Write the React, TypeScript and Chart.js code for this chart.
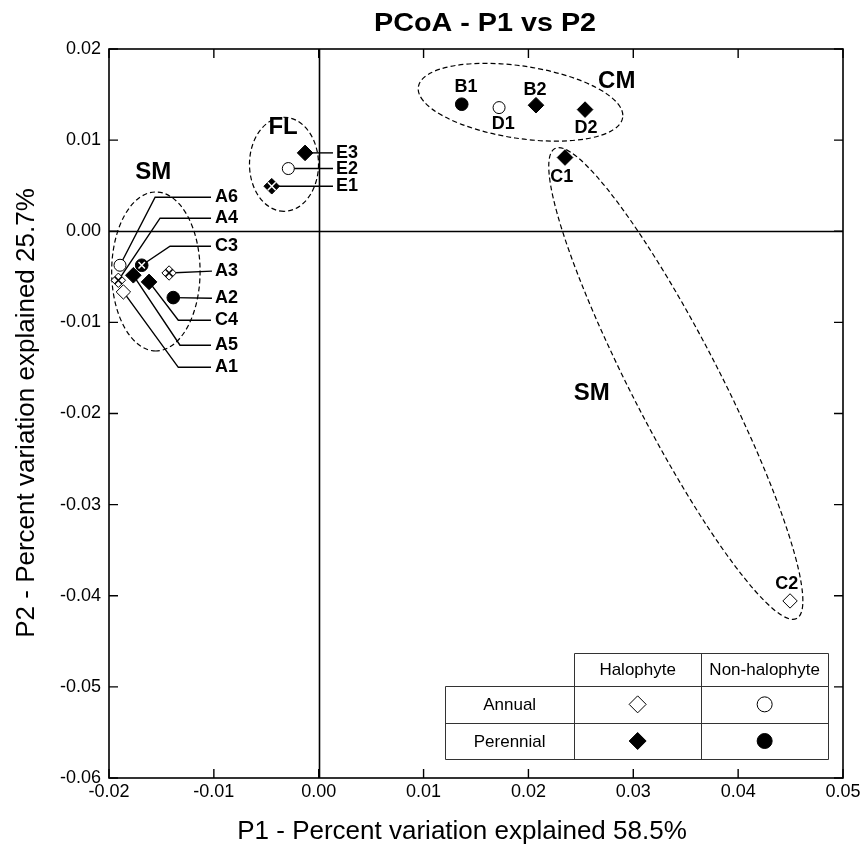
import React, { useEffect, useRef } from 'react';
import { Chart, registerables } from 'chart.js';

Chart.register(...registerables);

// ---------- data ----------
const sampleIds = ['A1', 'A2', 'A3', 'A4', 'A5', 'A6', 'B1', 'B2', 'C1', 'C2', 'C3', 'C4', 'D1', 'D2', 'E1', 'E2', 'E3'];
const p1Values = [-0.01863, -0.01387, -0.01427, -0.01911, -0.01768, -0.01895, 0.01364, 0.02072, 0.02349, 0.04495, -0.01688, -0.01618, 0.0172, 0.0254, -0.00448, -0.0029, -0.0013];
const p2Values = [-0.00666, -0.00728, -0.00458, -0.00538, -0.00483, -0.00373, 0.01394, 0.01383, 0.00809, -0.04057, -0.00373, -0.00556, 0.01357, 0.01335, 0.00494, 0.00688, 0.0086];
// HA = halophyte annual, HP = halophyte perennial, NA = non-halophyte annual, NP = non-halophyte perennial
const sampleKinds = ['HA', 'NP', 'HA', 'HA', 'HP', 'NA', 'NP', 'HP', 'HP', 'HA', 'NP', 'HP', 'NA', 'HP', 'HP', 'NA', 'HP'];
const overlapped = [false, false, true, true, false, false, false, false, false, false, true, false, false, false, true, false, false];

const xTickValues = [-0.02, -0.01, 0, 0.01, 0.02, 0.03, 0.04, 0.05];
const yTickValues = [-0.06, -0.05, -0.04, -0.03, -0.02, -0.01, 0, 0.01, 0.02];

const chartTitle = 'PCoA - P1 vs P2';
const xTitle = 'P1 - Percent variation explained 58.5%';
const yTitle = 'P2 - Percent variation explained 25.7%';

const legendColumns = ['Halophyte', 'Non-halophyte'];
const legendRows = ['Annual', 'Perennial'];
const legendKinds = [['HA', 'NA'], ['HP', 'NP']];

// annotation geometry (data units)
const groupLabels = [
  { text: 'SM', x: -0.01577, y: 0.00651 },
  { text: 'FL', x: -0.0034, y: 0.01141 },
  { text: 'CM', x: 0.02842, y: 0.0165 },
  { text: 'SM', x: 0.02603, y: -0.01781 },
];
const groupEllipses = [
  { p1: [-0.01553, 0.00431], p2: [-0.01553, -0.01314], ratio: 0.556 },
  { p1: [-0.00331, 0.01251], p2: [-0.00331, 0.00219], ratio: 0.734 },
  { p1: [0.0095, 0.01584], p2: [0.02899, 0.01248], ratio: 0.35 },
  { p1: [0.02253, 0.00908], p2: [0.04558, -0.0425], ratio: 0.167 },
];
const leaderRoutes = [
  { id: 'A6', via: [[-0.0156, 0.00373], [-0.01027, 0.00373]] },
  { id: 'A4', via: [[-0.01513, 0.00143], [-0.01027, 0.00143]] },
  { id: 'C3', via: [[-0.01418, -0.00165], [-0.01027, -0.00165]] },
  { id: 'A3', via: [[-0.01018, -0.00438]] },
  { id: 'A2', via: [[-0.01018, -0.00735]] },
  { id: 'C4', via: [[-0.01339, -0.00977], [-0.01027, -0.00977]] },
  { id: 'A5', via: [[-0.01323, -0.01251], [-0.01027, -0.01251]] },
  { id: 'A1', via: [[-0.01339, -0.01493], [-0.01027, -0.01493]] },
  { id: 'E3', via: [[0.00136, 0.0086]] },
  { id: 'E2', via: [[0.00136, 0.00688]] },
  { id: 'E1', via: [[0.00136, 0.00494]] },
];
const pointLabels = [
  { id: 'A6', x: -0.00989, y: 0.00373, align: 'left' },
  { id: 'A4', x: -0.00989, y: 0.00143, align: 'left' },
  { id: 'C3', x: -0.00989, y: -0.00165, align: 'left' },
  { id: 'A3', x: -0.00989, y: -0.00438, align: 'left' },
  { id: 'A2', x: -0.00989, y: -0.00735, align: 'left' },
  { id: 'C4', x: -0.00989, y: -0.00977, align: 'left' },
  { id: 'A5', x: -0.00989, y: -0.01251, align: 'left' },
  { id: 'A1', x: -0.00989, y: -0.01493, align: 'left' },
  { id: 'E3', x: 0.00165, y: 0.0086, align: 'left' },
  { id: 'E2', x: 0.00165, y: 0.00688, align: 'left' },
  { id: 'E1', x: 0.00165, y: 0.00494, align: 'left' },
  { id: 'B1', x: 0.01405, y: 0.01584, align: 'center' },
  { id: 'B2', x: 0.02063, y: 0.01547, align: 'center' },
  { id: 'D1', x: 0.0176, y: 0.01182, align: 'center' },
  { id: 'D2', x: 0.02549, y: 0.01138, align: 'center' },
  { id: 'C1', x: 0.02317, y: 0.00596, align: 'center' },
  { id: 'C2', x: 0.04463, y: -0.03874, align: 'center' },
];

// ---------- styles ----------
const FONT = '"Liberation Sans", Arial, Helvetica, sans-serif';
const kindStyles: Record<string, { style: string; fill: string; r: number }> = {
  HA: { style: 'rectRot', fill: '#ffffff', r: 7.2 },
  NA: { style: 'circle', fill: '#ffffff', r: 6 },
  HP: { style: 'rectRot', fill: '#000000', r: 7.8 },
  NP: { style: 'circle', fill: '#000000', r: 6.3 },
};

function fmt(v: number) {
  if (Math.abs(v) < 1e-9) return '0.00';
  return v.toFixed(2);
}

function drawText(ctx: CanvasRenderingContext2D, text: string, x: number, y: number, font: string, align: CanvasTextAlign, stretch = 1, rot = 0) {
  ctx.save();
  ctx.font = font;
  ctx.fillStyle = '#000';
  ctx.textAlign = align;
  ctx.textBaseline = 'middle';
  ctx.translate(x, y);
  if (rot) ctx.rotate(rot);
  ctx.scale(stretch, 1);
  ctx.fillText(text, 0, 0);
  ctx.restore();
}

function drawMarker(ctx: CanvasRenderingContext2D, kind: string, x: number, y: number, r: number) {
  const st = kindStyles[kind];
  ctx.save();
  ctx.beginPath();
  if (st.style === 'rectRot') {
    ctx.moveTo(x, y - r);
    ctx.lineTo(x + r, y);
    ctx.lineTo(x, y + r);
    ctx.lineTo(x - r, y);
    ctx.closePath();
  } else {
    ctx.arc(x, y, r, 0, Math.PI * 2);
  }
  ctx.fillStyle = st.fill;
  ctx.fill();
  ctx.strokeStyle = '#000';
  ctx.lineWidth = 1;
  ctx.stroke();
  ctx.restore();
}

const annotationPlugin = {
  id: 'pcoaAnnotations',
  beforeDatasetsDraw(chart: any) {
    const { ctx, chartArea: a, scales } = chart;
    const xs = scales.x;
    const ys = scales.y;
    ctx.save();
    // zero lines
    ctx.strokeStyle = '#000';
    ctx.lineWidth = 1.6;
    ctx.beginPath();
    const x0 = Math.round(xs.getPixelForValue(0)) + 0.5;
    const y0 = Math.round(ys.getPixelForValue(0)) + 0.5;
    ctx.moveTo(x0, a.top);
    ctx.lineTo(x0, a.bottom);
    ctx.moveTo(a.left, y0);
    ctx.lineTo(a.right, y0);
    ctx.stroke();

    // ellipses
    ctx.lineWidth = 1.2;
    ctx.setLineDash([5, 3]);
    groupEllipses.forEach((e) => {
      const ax = xs.getPixelForValue(e.p1[0]);
      const ay = ys.getPixelForValue(e.p1[1]);
      const bx = xs.getPixelForValue(e.p2[0]);
      const by = ys.getPixelForValue(e.p2[1]);
      const cx = (ax + bx) / 2;
      const cy = (ay + by) / 2;
      const semi = Math.hypot(bx - ax, by - ay) / 2;
      const ang = Math.atan2(by - ay, bx - ax);
      ctx.beginPath();
      ctx.ellipse(cx, cy, semi, semi * e.ratio, ang, 0, Math.PI * 2);
      ctx.stroke();
    });
    ctx.setLineDash([]);

    // leader lines
    ctx.lineWidth = 1.4;
    leaderRoutes.forEach((l) => {
      const i = sampleIds.indexOf(l.id);
      if (i < 0) return;
      ctx.beginPath();
      ctx.moveTo(xs.getPixelForValue(p1Values[i]), ys.getPixelForValue(p2Values[i]));
      l.via.forEach((p) => ctx.lineTo(xs.getPixelForValue(p[0]), ys.getPixelForValue(p[1])));
      ctx.stroke();
    });
    ctx.restore();
  },
  afterDatasetsDraw(chart: any) {
    const { ctx, chartArea: a, scales } = chart;
    const xs = scales.x;
    const ys = scales.y;

    // point labels
    pointLabels.forEach((l) => {
      drawText(ctx, l.id, xs.getPixelForValue(l.x), ys.getPixelForValue(l.y), `bold 18px ${FONT}`, l.align as CanvasTextAlign);
    });
    groupLabels.forEach((g) => {
      drawText(ctx, g.text, xs.getPixelForValue(g.x), ys.getPixelForValue(g.y), `bold 24px ${FONT}`, 'center');
    });

    // legend table
    const colW = [129.3, 126.7, 127.3];
    const rowH = [32.7, 36.7, 36.6];
    const tRight = a.right - 14.7;
    const tBottom = a.bottom - 18.7;
    const tLeft = tRight - colW[0] - colW[1] - colW[2];
    const tTop = tBottom - rowH[0] - rowH[1] - rowH[2];
    const cx1 = tLeft + colW[0];
    const cx2 = cx1 + colW[1];
    const ry1 = tTop + rowH[0];
    const ry2 = ry1 + rowH[1];
    ctx.save();
    ctx.fillStyle = '#fff';
    ctx.fillRect(cx1, tTop, tRight - cx1, rowH[0]);
    ctx.fillRect(tLeft, ry1, tRight - tLeft, tBottom - ry1);
    ctx.strokeStyle = '#333';
    ctx.lineWidth = 1;
    ctx.beginPath();
    ctx.rect(Math.round(cx1) + 0.5, Math.round(tTop) + 0.5, Math.round(tRight - cx1), Math.round(rowH[0]));
    ctx.rect(Math.round(tLeft) + 0.5, Math.round(ry1) + 0.5, Math.round(tRight - tLeft), Math.round(tBottom - ry1));
    ctx.moveTo(Math.round(tLeft) + 0.5, Math.round(ry2) + 0.5);
    ctx.lineTo(Math.round(tRight) + 0.5, Math.round(ry2) + 0.5);
    ctx.moveTo(Math.round(cx1) + 0.5, Math.round(ry1) + 0.5);
    ctx.lineTo(Math.round(cx1) + 0.5, Math.round(tBottom) + 0.5);
    ctx.moveTo(Math.round(cx2) + 0.5, Math.round(tTop) + 0.5);
    ctx.lineTo(Math.round(cx2) + 0.5, Math.round(tBottom) + 0.5);
    ctx.stroke();
    ctx.restore();
    const colCenters = [tLeft + colW[0] / 2, cx1 + colW[1] / 2, cx2 + colW[2] / 2];
    const rowCenters = [tTop + rowH[0] / 2, ry1 + rowH[1] / 2, ry2 + rowH[2] / 2];
    legendColumns.forEach((c, j) => drawText(ctx, c, colCenters[j + 1], rowCenters[0] + 1, `17px ${FONT}`, 'center'));
    legendRows.forEach((r, i) => {
      drawText(ctx, r, colCenters[0], rowCenters[i + 1] + 1, `17px ${FONT}`, 'center');
      legendKinds[i].forEach((k, j) => {
        const st = kindStyles[k];
        const rr = st.style === 'rectRot' ? 8.5 : 7.5;
        drawMarker(ctx, k, colCenters[j + 1], rowCenters[i + 1], rr);
      });
    });

    // frame + inward ticks
    ctx.save();
    ctx.strokeStyle = '#000';
    ctx.lineWidth = 1.6;
    ctx.strokeRect(a.left, a.top, a.right - a.left, a.bottom - a.top);
    ctx.lineWidth = 1.4;
    ctx.beginPath();
    const tl = 9;
    xTickValues.forEach((v) => {
      const x = xs.getPixelForValue(v);
      ctx.moveTo(x, a.bottom);
      ctx.lineTo(x, a.bottom - tl);
      ctx.moveTo(x, a.top);
      ctx.lineTo(x, a.top + tl);
    });
    yTickValues.forEach((v) => {
      const y = ys.getPixelForValue(v);
      ctx.moveTo(a.left, y);
      ctx.lineTo(a.left + tl, y);
      ctx.moveTo(a.right, y);
      ctx.lineTo(a.right - tl, y);
    });
    ctx.stroke();
    ctx.restore();
  },
  afterDraw(chart: any) {
    const { ctx } = chart;
    drawText(ctx, chartTitle, 485, 24, `bold 25px ${FONT}`, 'center', 1.15);
    drawText(ctx, xTitle, 462, 832, `25px ${FONT}`, 'center', 1.04);
    drawText(ctx, yTitle, 27, 413, `25px ${FONT}`, 'center', 1.04, -Math.PI / 2);
  },
};

export default function App() {
  const canvasRef = useRef<HTMLCanvasElement | null>(null);

  useEffect(() => {
    document.body.style.margin = '0';
    const canvas = canvasRef.current;
    if (!canvas) return;

    const kindOrder = ['HA', 'NA', 'HP', 'NP'];
    const datasets: any[] = kindOrder.map((k) => {
      const idx = sampleIds.map((_, i) => i).filter((i) => sampleKinds[i] === k);
      const st = kindStyles[k];
      return {
        label: k,
        data: idx.map((i) => ({ x: p1Values[i], y: p2Values[i] })),
        pointStyle: st.style,
        pointRadius: st.r,
        pointBackgroundColor: st.fill,
        pointBorderColor: '#000',
        pointBorderWidth: 1,
        showLine: false,
        order: 2,
      };
    });
    const crossIdx = sampleIds.map((_, i) => i).filter((i) => overlapped[i]);
    datasets.push({
      label: 'overlap',
      data: crossIdx.map((i) => ({ x: p1Values[i], y: p2Values[i] })),
      pointStyle: 'crossRot',
      pointRadius: crossIdx.map((i) => kindStyles[sampleKinds[i]].r * 0.72),
      pointBorderColor: crossIdx.map((i) => (kindStyles[sampleKinds[i]].fill === '#000000' ? '#ffffff' : '#000000')),
      pointBackgroundColor: 'rgba(0,0,0,0)',
      pointBorderWidth: 1.5,
      showLine: false,
      order: 1,
    });

    const tickFont = { family: FONT, size: 18 };
    const chart = new Chart(canvas, {
      type: 'scatter',
      data: { datasets },
      options: {
        responsive: false,
        animation: false,
        devicePixelRatio: 1,
        events: [],
        layout: { padding: { top: 49, right: 21, left: 0, bottom: 0 } },
        plugins: { legend: { display: false }, tooltip: { enabled: false }, title: { display: false } },
        scales: {
          x: {
            type: 'linear',
            min: -0.02,
            max: 0.05,
            afterBuildTicks: (s: any) => {
              s.ticks = xTickValues.map((v) => ({ value: v }));
            },
            afterFit: (s: any) => {
              s.height = 71;
            },
            ticks: { font: tickFont, color: '#000', padding: 3, maxRotation: 0, autoSkip: false, callback: (v: any) => fmt(Number(v)) },
            grid: { display: false, drawTicks: false },
            border: { display: false },
          },
          y: {
            type: 'linear',
            min: -0.06,
            max: 0.02,
            afterBuildTicks: (s: any) => {
              s.ticks = yTickValues.map((v) => ({ value: v }));
            },
            afterFit: (s: any) => {
              s.width = 109;
            },
            ticks: { font: tickFont, color: '#000', padding: 8, autoSkip: false, callback: (v: any) => fmt(Number(v)) },
            grid: { display: false, drawTicks: false },
            border: { display: false },
          },
        },
      } as any,
      plugins: [annotationPlugin],
    });
    return () => chart.destroy();
  }, []);

  return (
    <div style={{ width: 864, height: 849, background: '#fff' }}>
      <canvas ref={canvasRef} width={864} height={849} style={{ display: 'block', width: 864, height: 849 }} />
    </div>
  );
}
